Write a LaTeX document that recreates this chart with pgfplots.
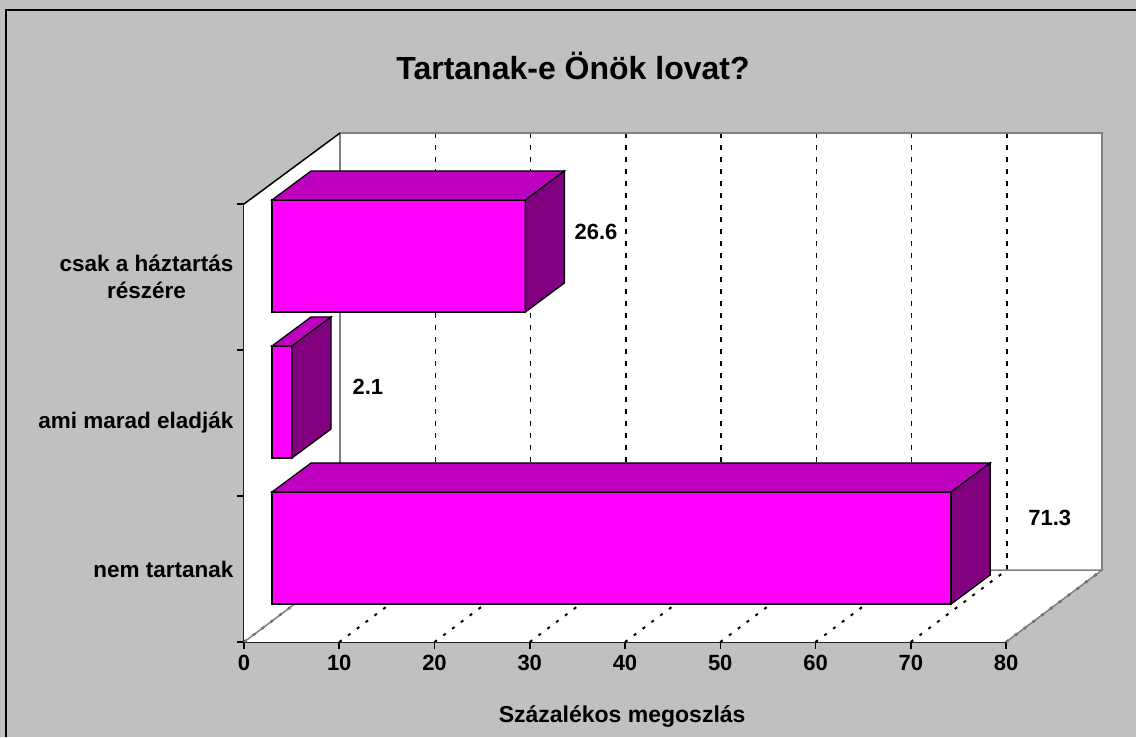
\documentclass[border=0pt]{standalone}
\usepackage{pgfplots}
\pgfplotsset{compat=1.18}
\usepackage{fontspec}
\setmainfont{Liberation Sans}
\definecolor{bg}{HTML}{C0C0C0}
\definecolor{frontc}{HTML}{FF00FF}
\definecolor{topc}{HTML}{C000C0}
\definecolor{sidec}{HTML}{800080}
\definecolor{edgec}{HTML}{808080}
\begin{document}
\begin{tikzpicture}[x=1pt,y=1pt]
\useasboundingbox (0,0) rectangle (1136,737);
\fill[bg] (0,0) rectangle (1136,737);
\draw[black, line width=2.5pt] (6,0) -- (6,727) -- (1136,727);
\node[font=\fontsize{32}{38}\selectfont\bfseries] at (573,671) {Tartanak-e Önök lovat?};
\begin{axis}[
  at={(244pt,95pt)}, anchor=south west,
  scale only axis, width=762pt, height=438pt,
  xmin=0, xmax=80, ymin=0, ymax=438,
  clip=false,
  axis x line*=bottom, axis y line*=left,
  axis line style={-, line width=1.5pt, black},
  xtick={0,10,...,80},
  ytick={0,146,292,438}, yticklabels={},
  extra y ticks={73,219,365},
  extra y tick labels={nem tartanak, ami marad eladják, {csak a háztartás\\részére}},
  extra y tick style={major tick length=0pt},
  tick align=outside,
  major tick length=7pt,
  tick style={black, line width=1.5pt},
  /pgf/number format/assume math mode=true,
  xticklabel style={font=\fontsize{22}{26}\selectfont\bfseries, yshift=-3pt},
  yticklabel style={font=\fontsize{22.5}{27}\selectfont\bfseries, align=center, xshift=-7pt},
]
% walls and floor
\addplot[fill=white, draw=none] coordinates {(0,0) (80,0) (90.08,72) (10.08,72)} --cycle;
\addplot[fill=white, draw=none] coordinates {(0,0) (0,438) (10.08,509) (10.08,72)} --cycle;
\addplot[fill=white, draw=none] coordinates {(10.08,72) (90.08,72) (90.08,509) (10.08,509)} --cycle;
% grid lines on back wall and floor
\pgfplotsinvokeforeach{0,10,...,80}{
  \draw[black, line width=1.5pt, dash pattern=on 5pt off 7pt] (axis cs:{#1+10.08},72) -- (axis cs:{#1+10.08},509);
  \draw[black, line width=2pt, dash pattern=on 3pt off 8pt] (axis cs:#1,0) -- (axis cs:{#1+10.08},72);
}
% grey edges
\draw[edgec, line width=1.5pt] (axis cs:0,0) -- (axis cs:10.08,72) -- (axis cs:90.08,72) -- (axis cs:80,0);
\draw[edgec, line width=1.5pt] (axis cs:10.08,72) -- (axis cs:10.08,509) -- (axis cs:90.08,509) -- (axis cs:90.08,72);
\draw[black, line width=1.5pt] (axis cs:0,438) -- (axis cs:10.08,509);
% bar: nem tartanak 71.3
\addplot[fill=frontc, draw=black, line width=1.3pt] coordinates {(2.94,38) (74.24,38) (74.24,150) (2.94,150)} --cycle;
\addplot[fill=topc, draw=black, line width=1.3pt] coordinates {(2.94,150) (74.24,150) (78.34,179) (7.04,179)} --cycle;
\addplot[fill=sidec, draw=black, line width=1.3pt] coordinates {(74.24,38) (78.34,67) (78.34,179) (74.24,150)} --cycle;
% bar: ami marad eladják 2.1
\addplot[fill=frontc, draw=black, line width=1.3pt] coordinates {(2.94,184) (5.04,184) (5.04,296) (2.94,296)} --cycle;
\addplot[fill=topc, draw=black, line width=1.3pt] coordinates {(2.94,296) (5.04,296) (9.14,325) (7.04,325)} --cycle;
\addplot[fill=sidec, draw=black, line width=1.3pt] coordinates {(5.04,184) (9.14,213) (9.14,325) (5.04,296)} --cycle;
% bar: csak a háztartás részére 26.6
\addplot[fill=frontc, draw=black, line width=1.3pt] coordinates {(2.94,330) (29.54,330) (29.54,442) (2.94,442)} --cycle;
\addplot[fill=topc, draw=black, line width=1.3pt] coordinates {(2.94,442) (29.54,442) (33.64,471) (7.04,471)} --cycle;
\addplot[fill=sidec, draw=black, line width=1.3pt] coordinates {(29.54,330) (33.64,359) (33.64,471) (29.54,442)} --cycle;
% value labels
\node[font=\fontsize{22}{26}\selectfont\bfseries] at (axis cs:84.6,124) {71.3};
\node[font=\fontsize{22}{26}\selectfont\bfseries] at (axis cs:13.0,255) {2.1};
\node[font=\fontsize{22}{26}\selectfont\bfseries] at (axis cs:36.96,410) {26.6};
\node[font=\fontsize{23}{27}\selectfont\bfseries] at (axis cs:39.7,-75) {Százalékos megoszlás};
\end{axis}
\end{tikzpicture}
\end{document}
